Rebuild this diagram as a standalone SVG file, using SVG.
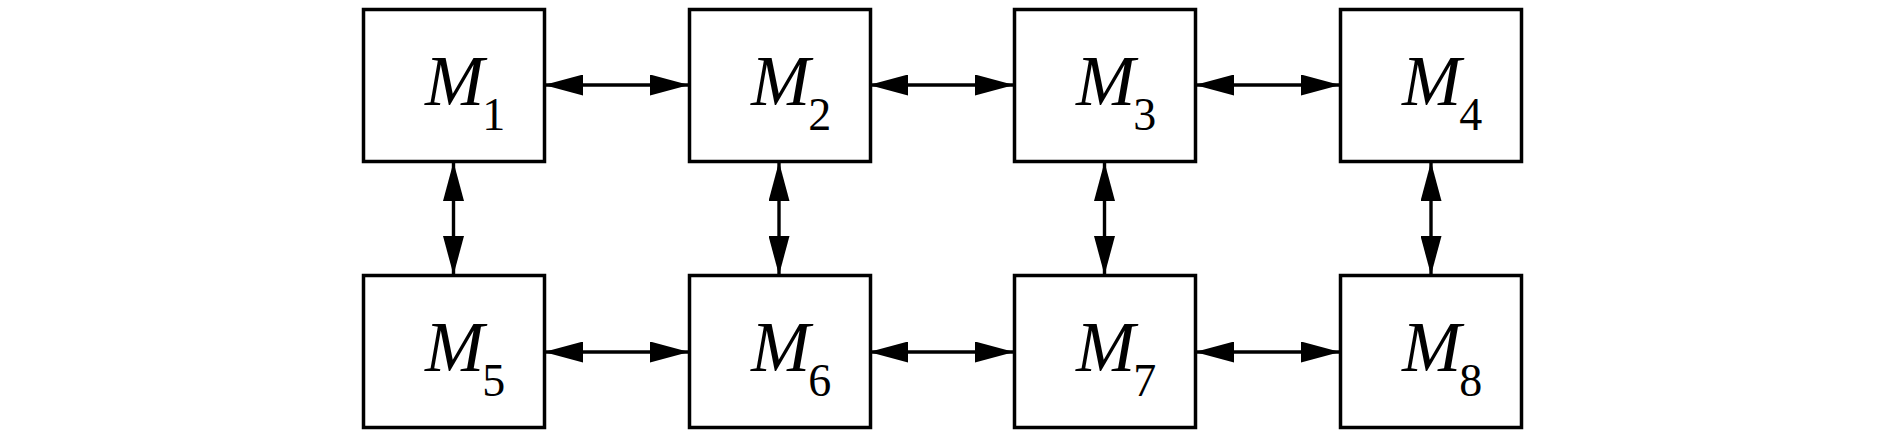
<svg xmlns="http://www.w3.org/2000/svg" width="1890" height="443" viewBox="0 0 1890 443">
<style>
.box{fill:#fff;stroke:#000;stroke-width:3.5}
.lbl{font-family:"Liberation Serif","Times New Roman",serif;font-size:71px;fill:#000}
.m{font-style:italic}
.sub{font-size:46px;font-style:normal}
.conn{stroke:#000;stroke-width:3.4;fill:none;marker-start:url(#ah);marker-end:url(#ah)}
</style>
<defs>
<marker id="ah" markerUnits="userSpaceOnUse" markerWidth="39" markerHeight="21" viewBox="0 0 39 21" refX="38" refY="10.5" orient="auto-start-reverse">
<path d="M0,0 L39,10.5 L0,21 z" fill="#000"/>
</marker>
</defs>
<rect width="1890" height="443" fill="#fff"/>
<g id="connectors">
<line class="conn" x1="545" y1="85" x2="688" y2="85"/>
<line class="conn" x1="870" y1="85" x2="1013" y2="85"/>
<line class="conn" x1="1196" y1="85" x2="1339" y2="85"/>
<line class="conn" x1="545" y1="352" x2="688" y2="352"/>
<line class="conn" x1="870" y1="352" x2="1013" y2="352"/>
<line class="conn" x1="1196" y1="352" x2="1339" y2="352"/>
<line class="conn" x1="453.5" y1="163" x2="453.5" y2="274"/>
<line class="conn" x1="779" y1="163" x2="779" y2="274"/>
<line class="conn" x1="1104.5" y1="163" x2="1104.5" y2="274"/>
<line class="conn" x1="1431" y1="163" x2="1431" y2="274"/>
</g>
<g id="M1"><rect class="box" x="363.5" y="9.5" width="181" height="152"/><text class="lbl" x="425" y="105"><tspan class="m">M</tspan><tspan class="sub" dx="-2" dy="25">1</tspan></text></g>
<g id="M2"><rect class="box" x="689.5" y="9.5" width="181" height="152"/><text class="lbl" x="751" y="105"><tspan class="m">M</tspan><tspan class="sub" dx="-2" dy="25">2</tspan></text></g>
<g id="M3"><rect class="box" x="1014.5" y="9.5" width="181" height="152"/><text class="lbl" x="1076" y="105"><tspan class="m">M</tspan><tspan class="sub" dx="-2" dy="25">3</tspan></text></g>
<g id="M4"><rect class="box" x="1340.5" y="9.5" width="181" height="152"/><text class="lbl" x="1402" y="105"><tspan class="m">M</tspan><tspan class="sub" dx="-2" dy="25">4</tspan></text></g>
<g id="M5"><rect class="box" x="363.5" y="275.5" width="181" height="152"/><text class="lbl" x="425" y="371"><tspan class="m">M</tspan><tspan class="sub" dx="-2" dy="25">5</tspan></text></g>
<g id="M6"><rect class="box" x="689.5" y="275.5" width="181" height="152"/><text class="lbl" x="751" y="371"><tspan class="m">M</tspan><tspan class="sub" dx="-2" dy="25">6</tspan></text></g>
<g id="M7"><rect class="box" x="1014.5" y="275.5" width="181" height="152"/><text class="lbl" x="1076" y="371"><tspan class="m">M</tspan><tspan class="sub" dx="-2" dy="25">7</tspan></text></g>
<g id="M8"><rect class="box" x="1340.5" y="275.5" width="181" height="152"/><text class="lbl" x="1402" y="371"><tspan class="m">M</tspan><tspan class="sub" dx="-2" dy="25">8</tspan></text></g>
</svg>
